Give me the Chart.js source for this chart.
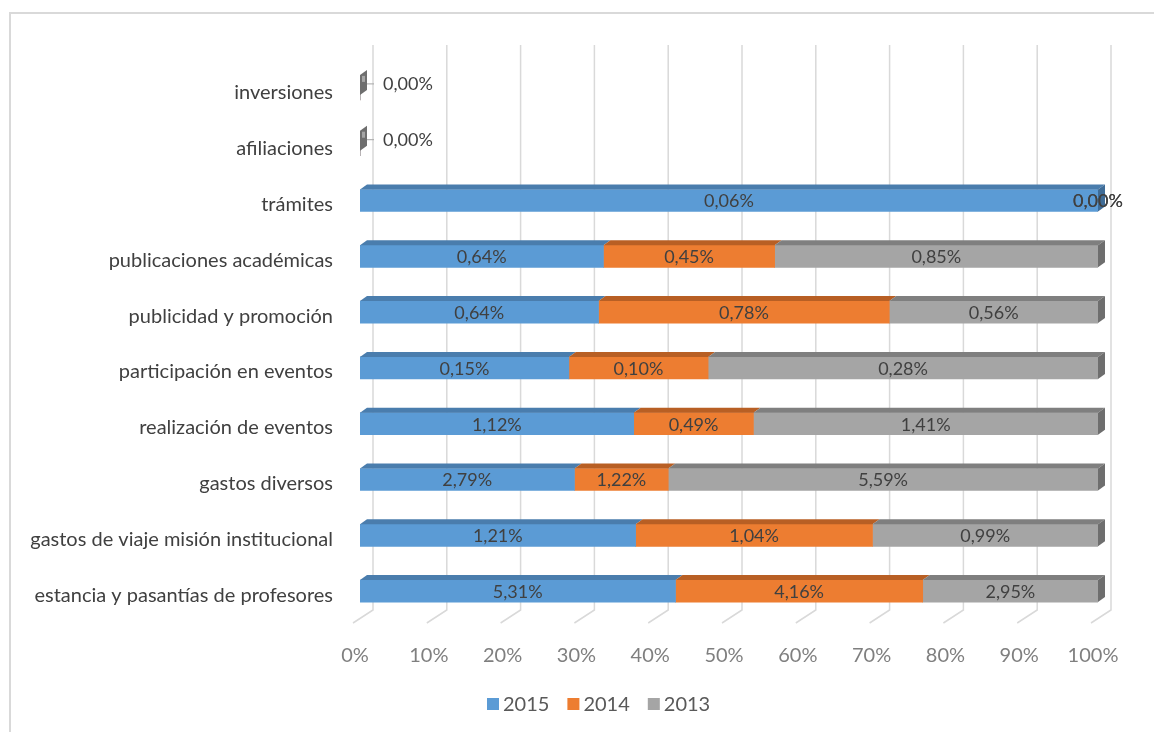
<!DOCTYPE html>
<html>
<head>
<meta charset="utf-8">
<script src="https://cdn.jsdelivr.net/npm/chart.js@4.4.1/dist/chart.umd.min.js"></script>
<style>
  body { margin: 0; background: #fff; }
</style>
</head>
<body>
<canvas id="grafica" width="1154" height="732"></canvas>
<script>
const categorias = [
  "inversiones",
  "afiliaciones",
  "trámites",
  "publicaciones académicas",
  "publicidad y promoción",
  "participación en eventos",
  "realización de eventos",
  "gastos diversos",
  "gastos de viaje misión institucional",
  "estancia y pasantías de profesores"
];
const anios = ["2015", "2014", "2013"];
const v2015 = [0, 0, 0.06, 0.64, 0.64, 0.15, 1.12, 2.79, 1.21, 5.31];
const v2014 = [0, 0, 0, 0.45, 0.78, 0.10, 0.49, 1.22, 1.04, 4.16];
const v2013 = [0, 0, 0, 0.85, 0.56, 0.28, 1.41, 5.59, 0.99, 2.95];
const ticksX = [0, 10, 20, 30, 40, 50, 60, 70, 80, 90, 100];

const colores = ["#5B9BD5", "#ED7D31", "#A5A5A5"];
const oscuros = ["#4A7DAD", "#B85F24", "#7F7F7F"];
const lados = ["#3F6C97", "#A0521F", "#6E6E6E"];

const series = [v2015, v2014, v2013];
const totales = categorias.map((c, i) => v2015[i] + v2014[i] + v2013[i]);
const pct = arr => arr.map((v, i) => totales[i] ? v / totales[i] * 100 : 0);
const fmt = v => v.toFixed(2).replace('.', ',') + '%';

const DX = 7, DY = 5;

// marco, rejilla de fondo y piso en 3D
const fondo = {
  id: 'fondo',
  beforeDatasetsDraw(chart) {
    const ctx = chart.ctx, x = chart.scales.x;
    ctx.save();
    ctx.strokeStyle = '#D9D9D9';
    ctx.lineWidth = 2;
    ctx.beginPath();
    ctx.moveTo(10, 732); ctx.lineTo(10, 13); ctx.lineTo(1154, 13);
    ctx.stroke();
    ctx.lineWidth = 1.5;
    ticksX.forEach(t => {
      const px = x.getPixelForValue(t);
      ctx.beginPath();
      ctx.moveTo(px + 13, 45);
      ctx.lineTo(px + 13, 610);
      ctx.lineTo(px - 7, 623);
      ctx.stroke();
    });
    ctx.restore();
  }
};

// caras superiores y laterales + etiquetas de datos + leyenda
const barras3d = {
  id: 'barras3d',
  afterDatasetsDraw(chart) {
    const ctx = chart.ctx, x = chart.scales.x, y = chart.scales.y;
    ctx.save();
    categorias.forEach((c, i) => {
      const cy = y.getPixelForValue(i);
      const top = cy - 11, bot = cy + 11;
      if (!totales[i]) {
        const x0 = x.getPixelForValue(0);
        const t = cy - 14, b = cy + 6;
        ctx.fillStyle = lados[2];
        ctx.beginPath();
        ctx.moveTo(x0, t); ctx.lineTo(x0 + DX, t - DY);
        ctx.lineTo(x0 + DX, b - DY); ctx.lineTo(x0, b);
        ctx.closePath(); ctx.fill();
        ctx.fillStyle = '#A5A5A5';
        ctx.fillRect(x0 + 2, t + 1, 3, 6);
        ctx.strokeStyle = '#A6A6A6';
        ctx.lineWidth = 1;
        ctx.beginPath();
        ctx.moveTo(x0 + DX, cy - 5); ctx.lineTo(x0 + 14, cy - 5);
        ctx.stroke();
        ctx.fillStyle = '#404040';
        ctx.font = '18px Lato';
        ctx.textAlign = 'left';
        ctx.textBaseline = 'middle';
        ctx.fillText(fmt(0), x0 + 23, cy - 5);
        return;
      }
      let acc = 0, ultimo = -1, fin = 0;
      series.forEach((s, d) => {
        const p = s[i] / totales[i] * 100;
        const x0 = x.getPixelForValue(acc), x1 = x.getPixelForValue(acc + p);
        if (p > 0) {
          ctx.fillStyle = oscuros[d];
          ctx.beginPath();
          ctx.moveTo(x0, top); ctx.lineTo(x0 + DX, top - DY);
          ctx.lineTo(x1 + DX, top - DY); ctx.lineTo(x1, top);
          ctx.closePath(); ctx.fill();
          ultimo = d; fin = x1;
        }
        acc += p;
      });
      ctx.fillStyle = lados[ultimo];
      ctx.beginPath();
      ctx.moveTo(fin, top); ctx.lineTo(fin + DX, top - DY);
      ctx.lineTo(fin + DX, bot - DY); ctx.lineTo(fin, bot);
      ctx.closePath(); ctx.fill();

      acc = 0;
      ctx.fillStyle = '#404040';
      ctx.font = '18px Lato';
      ctx.textAlign = 'center';
      ctx.textBaseline = 'middle';
      series.forEach((s, d) => {
        const p = s[i] / totales[i] * 100;
        const mid = x.getPixelForValue(acc + p / 2);
        ctx.fillText(fmt(s[i]), mid, cy + 1);
        acc += p;
      });
    });

    // leyenda
    let lx = 487;
    ctx.font = '20px Lato';
    ctx.textAlign = 'left';
    ctx.textBaseline = 'middle';
    chart.data.datasets.forEach(ds => {
      ctx.fillStyle = ds.backgroundColor;
      ctx.fillRect(lx, 698, 12, 12);
      ctx.fillStyle = '#595959';
      ctx.fillText(ds.label, lx + 16, 705);
      lx += 16 + ctx.measureText(ds.label).width + 18;
    });
    ctx.restore();
  }
};

new Chart(document.getElementById('grafica'), {
  type: 'bar',
  data: {
    labels: categorias,
    datasets: anios.map((a, d) => ({
      label: a,
      data: pct(series[d]),
      backgroundColor: colores[d],
      borderWidth: 0,
      barThickness: 22
    }))
  },
  options: {
    indexAxis: 'y',
    responsive: false,
    animation: false,
    layout: { padding: { left: 0, right: 56, top: 61, bottom: 56 } },
    plugins: {
      legend: { display: false },
      tooltip: { enabled: false }
    },
    scales: {
      x: {
        stacked: true,
        min: 0, max: 100,
        grid: { display: false },
        border: { display: false },
        afterFit(s) { s.height = 57; },
        ticks: {
          stepSize: 10,
          padding: 17,
          labelOffset: -5,
          color: '#7F7F7F',
          font: { family: 'Lato', size: 20 },
          callback: v => v + '%'
        }
      },
      y: {
        stacked: true,
        grid: { display: false, drawTicks: false },
        border: { display: false },
        afterFit(s) { s.width = 360; },
        ticks: {
          padding: 27,
          labelOffset: 4,
          color: '#404040',
          font: { family: 'Lato', size: 20 }
        }
      }
    }
  },
  plugins: [fondo, barras3d]
});
</script>
</body>
</html>
